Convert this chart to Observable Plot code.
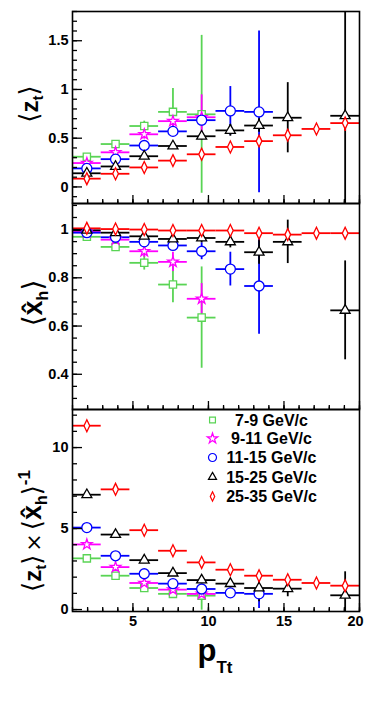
<!DOCTYPE html>
<html><head><meta charset="utf-8">
<script src="https://cdn.jsdelivr.net/npm/d3@7"></script>
<script src="https://cdn.jsdelivr.net/npm/@observablehq/plot@0.6"></script>
<style>
html,body{margin:0;padding:0;background:#fff;}
#chart{position:relative;width:366px;height:708px;overflow:hidden;background:#fff;color:#000;font-family:"Liberation Sans",Arial,sans-serif;}
#chart > svg{position:absolute;left:0;overflow:visible;}
#overlay{top:0;left:0;pointer-events:none;}
.br{font-family:"DejaVu Sans",sans-serif;font-weight:normal;}
</style></head><body><div id="chart"></div>
<script>
// ---------- data ----------
const binCenters = [1.95, 3.85, 5.75, 7.65, 9.55, 11.45, 13.35, 15.25, 17.15, 19.05];
const binHalfWidth = 0.95;
const seriesNames = ["7-9 GeV/c", "9-11 GeV/c", "11-15 GeV/c", "15-25 GeV/c", "25-35 GeV/c"];
const seriesColors = ["#59d454", "#ff00ff", "#0000ff", "#000000", "#ff0000"];

// <z_t>
const zt_7_9      = [0.31, 0.44, 0.625, 0.77, 0.745];
const zt_7_9_err  = [0.02, 0.03, 0.05, 0.24, 0.81];
const zt_9_11     = [0.245, 0.355, 0.54, 0.675, 0.715];
const zt_9_11_err = [0.03, 0.04, 0.05, 0.08, 0.23];
const zt_11_15     = [0.19, 0.285, 0.425, 0.57, 0.685, 0.78, 0.77];
const zt_11_15_err = [0.02, 0.02, 0.03, 0.04, 0.06, 0.25, 0.83];
const zt_15_25     = [0.14, 0.21, 0.315, 0.42, 0.52, 0.58, 0.63, 0.71, null, 0.73];
const zt_15_25_err = [0.02, 0.02, 0.02, 0.03, 0.04, 0.06, 0.07, 0.36, null, 2.5];
const zt_25_35     = [0.085, 0.135, 0.2, 0.27, 0.335, 0.41, 0.47, 0.53, 0.595, 0.655];
const zt_25_35_err = [0.02, 0.02, 0.02, 0.02, 0.03, 0.03, 0.05, 0.055, 0.04, 0.085];

// <x_h hat>
const xh_7_9      = [0.97, 0.928, 0.862, 0.772, 0.635];
const xh_7_9_err  = [0.005, 0.01, 0.03, 0.075, 0.21];
const xh_9_11     = [0.99, 0.958, 0.91, 0.866, 0.713];
const xh_9_11_err = [0.01, 0.015, 0.025, 0.04, 0.063];
const xh_11_15     = [0.987, 0.968, 0.949, 0.934, 0.91, 0.836, 0.766];
const xh_11_15_err = [0.01, 0.01, 0.015, 0.02, 0.035, 0.07, 0.2];
const xh_15_25     = [0.997, 0.987, 0.972, 0.961, 0.965, 0.949, 0.906, 0.949, null, 0.665];
const xh_15_25_err = [0.01, 0.01, 0.015, 0.015, 0.02, 0.025, 0.05, 0.09, null, 0.205];
const xh_25_35     = [1.005, 1.002, 1.0, 0.996, 0.996, 0.996, 0.985, 0.979, 0.985, 0.985];
const xh_25_35_err = [0.01, 0.01, 0.01, 0.01, 0.01, 0.01, 0.01, 0.02, 0.01, 0.01];

// <z_t> x <x_h hat>^-1
const ratio_7_9      = [3.16, 2.09, 1.33, 0.97, 0.86];
const ratio_7_9_err  = [0.05, 0.05, 0.1, 0.25, 0.9];
const ratio_9_11     = [4.02, 2.62, 1.64, 1.23, 0.965];
const ratio_9_11_err = [0.1, 0.15, 0.2, 0.2, 0.3];
const ratio_11_15     = [5.06, 3.32, 2.21, 1.6, 1.27, 1.03, 0.97];
const ratio_11_15_err = [0.05, 0.05, 0.1, 0.15, 0.2, 0.3, 0.9];
const ratio_15_25     = [7.09, 4.63, 3.05, 2.25, 1.82, 1.6, 1.33, 1.29, null, 0.88];
const ratio_15_25_err = [0.05, 0.05, 0.1, 0.1, 0.15, 0.2, 0.85, 0.5, null, 1.45];
const ratio_25_35     = [11.35, 7.42, 4.9, 3.63, 2.91, 2.46, 2.09, 1.84, 1.64, 1.475];
const ratio_25_35_err = [0.1, 0.1, 0.1, 0.15, 0.2, 0.2, 0.3, 0.2, 0.1, 0.2];

// tick labels
const xTickLabels = [5, 10, 15, 20];
const ztTickLabels = [0, 0.5, 1, 1.5];
const xhTickLabels = [0.4, 0.6, 0.8, 1];
const ratioTickLabels = [0, 5, 10];

// ---------- symbols ----------
const thinDiamond = {
  draw(ctx, size) {
    const s = Math.sqrt(size / Math.PI);
    const w = s * 0.62, h = s * 1.3;
    ctx.moveTo(0, -h); ctx.lineTo(w, 0); ctx.lineTo(0, h); ctx.lineTo(-w, 0); ctx.closePath();
  }
};
const seriesSymbols = ["square", "star", "circle", "triangle", thinDiamond];
const seriesR = [4.1, 3.3, 5, 3.7, 4.6];

function rowsFor(pairs) {
  const rows = [];
  pairs.forEach(([vals, errs], s) => {
    vals.forEach((v, j) => { if (v != null) rows.push({s, x: binCenters[j], y: v, e: errs[j]}); });
  });
  return rows;
}
const fmt = d => `${+(+d).toFixed(2)}`;
const range = (a, b, st) => d3.range(Math.round(a / st), Math.round(b / st) + 1).map(k => +(k * st).toFixed(4));

function panel({top, height, mt, mb, domain, major, minor, pairs, xLabels}) {
  const rows = rowsFor(pairs);
  const marks = [];
  for (let s = 0; s < 5; s++) {
    const d = rows.filter(r => r.s === s);
    marks.push(Plot.ruleY(d, {y: "y", x1: r => r.x - binHalfWidth, x2: r => r.x + binHalfWidth, stroke: seriesColors[s], strokeWidth: 1.8, clip: true}));
    marks.push(Plot.ruleX(d, {x: "x", y1: r => r.y - r.e, y2: r => r.y + r.e, stroke: seriesColors[s], strokeWidth: 1.8, clip: true}));
  }
  for (let s = 0; s < 5; s++) {
    const d = rows.filter(r => r.s === s);
    marks.push(Plot.dot(d, {x: "x", y: "y", symbol: seriesSymbols[s], r: seriesR[s], stroke: seriesColors[s], fill: "white", strokeWidth: 1.3}));
  }
  // y ticks (inside the frame)
  marks.push(Plot.axisY(major, {tickSize: 10, dx: 10, fill: "none", strokeWidth: 1.3, label: null}));
  marks.push(Plot.axisY(minor, {tickSize: 5, dx: 5, fill: "none", strokeWidth: 1.3, label: null}));
  marks.push(Plot.axisY(major, {tickSize: 0, tickPadding: 4, fontSize: 14.5, fontWeight: "bold", tickFormat: fmt, label: null}));
  // x ticks
  marks.push(Plot.axisX(xTickLabels, {tickSize: 8, dy: -8, fill: "none", strokeWidth: 1.3, label: null}));
  marks.push(Plot.axisX(range(1, 20, 1), {tickSize: 4, dy: -4, fill: "none", strokeWidth: 1.3, label: null}));
  marks.push(Plot.axisX(range(1.5, 19.5, 1), {tickSize: 2.5, dy: -2.5, fill: "none", strokeWidth: 1.3, label: null}));
  if (xLabels) {
    marks.push(Plot.axisX(xTickLabels.slice(0, -1), {tickSize: 0, tickPadding: 4, fontSize: 14.5, fontWeight: "bold", tickFormat: fmt, label: null}));
    marks.push(Plot.axisX(xTickLabels.slice(-1), {tickSize: 0, tickPadding: 4, dx: -4, fontSize: 14.5, fontWeight: "bold", tickFormat: fmt, label: null}));
  }
  marks.push(Plot.frame({stroke: "black", strokeWidth: 1.6}));
  const svg = Plot.plot({
    width: 366, height,
    marginLeft: 72, marginRight: 7, marginTop: mt, marginBottom: mb,
    x: {domain: [1, 20], label: null},
    y: {domain, label: null},
    style: {background: "transparent", overflow: "visible", fontFamily: "Liberation Sans, Arial, sans-serif", color: "black"},
    marks
  });
  svg.style.top = top + "px";
  document.getElementById("chart").appendChild(svg);
}

panel({top: 0, height: 204, mt: 11, mb: 1, domain: [-0.17, 1.80],
  major: ztTickLabels, minor: range(-0.1, 1.8, 0.1),
  pairs: [[zt_7_9, zt_7_9_err], [zt_9_11, zt_9_11_err], [zt_11_15, zt_11_15_err], [zt_15_25, zt_15_25_err], [zt_25_35, zt_25_35_err]],
  xLabels: false});
panel({top: 202, height: 208, mt: 1, mb: 1, domain: [0.254, 1.108],
  major: xhTickLabels, minor: range(0.3, 1.1, 0.05),
  pairs: [[xh_7_9, xh_7_9_err], [xh_9_11, xh_9_11_err], [xh_11_15, xh_11_15_err], [xh_15_25, xh_15_25_err], [xh_25_35, xh_25_35_err]],
  xLabels: false});
panel({top: 408, height: 300, mt: 1, mb: 97, domain: [-0.12, 12.35],
  major: ratioTickLabels, minor: range(0, 12, 1),
  pairs: [[ratio_7_9, ratio_7_9_err], [ratio_9_11, ratio_9_11_err], [ratio_11_15, ratio_11_15_err], [ratio_15_25, ratio_15_25_err], [ratio_25_35, ratio_25_35_err]],
  xLabels: true});

// ---------- overlay: axis titles and legend ----------
const ov = d3.select("#chart").append("svg").attr("id", "overlay").attr("width", 366).attr("height", 708)
  .style("font-family", "Liberation Sans, Arial, sans-serif").style("font-weight", "bold");

function ylab(x, y, html) {
  ov.append("text").attr("transform", `translate(${x},${y}) rotate(-90)`).attr("text-anchor", "middle")
    .attr("font-size", 24).html(html);
}
ylab(38, 104, `<tspan class="br" font-size="26">⟨</tspan><tspan>z</tspan><tspan font-size="15" dy="5">t</tspan><tspan class="br" font-size="26" dy="-5">⟩</tspan>`);
ylab(42, 303, `<tspan class="br" font-size="28">⟨</tspan><tspan font-size="27">x̂</tspan><tspan font-size="16" dy="6">h</tspan><tspan class="br" font-size="28" dy="-6">⟩</tspan>`);
ylab(41, 531, `<tspan class="br" font-size="26">⟨</tspan><tspan>z</tspan><tspan font-size="15" dy="5">t</tspan><tspan class="br" font-size="26" dy="-5">⟩</tspan><tspan class="br" font-size="22" dx="3">×</tspan><tspan class="br" font-size="26" dx="3">⟨</tspan><tspan font-size="27">x̂</tspan><tspan font-size="16" dy="6">h</tspan><tspan class="br" font-size="26" dy="-6">⟩</tspan><tspan font-size="17" dy="-11">-1</tspan>`);

// x title
ov.append("text").attr("x", 215).attr("y", 661).attr("text-anchor", "middle").attr("font-size", 31)
  .html(`<tspan>p</tspan><tspan font-size="17" dy="12">Tt</tspan>`);

// legend
const legendRowsY = [420, 438.5, 457.5, 477, 496.5];
const legendR = [3.3, 3.3, 4, 3, 3.6];
seriesNames.forEach((name, i) => {
  const sym = typeof seriesSymbols[i] === "string"
    ? {square: d3.symbolSquare, star: d3.symbolStar, circle: d3.symbolCircle, triangle: d3.symbolTriangle}[seriesSymbols[i]]
    : seriesSymbols[i];
  ov.append("path").attr("transform", `translate(212.5,${legendRowsY[i]})`)
    .attr("d", d3.symbol(sym, legendR[i] * legendR[i] * Math.PI)())
    .attr("fill", "none").attr("stroke", seriesColors[i]).attr("stroke-width", 1.2);
  ov.append("text").attr("x", 271.5).attr("y", legendRowsY[i]).attr("dy", "0.36em")
    .attr("text-anchor", "middle").attr("font-size", 16).text(name);
});
</script></body></html>
